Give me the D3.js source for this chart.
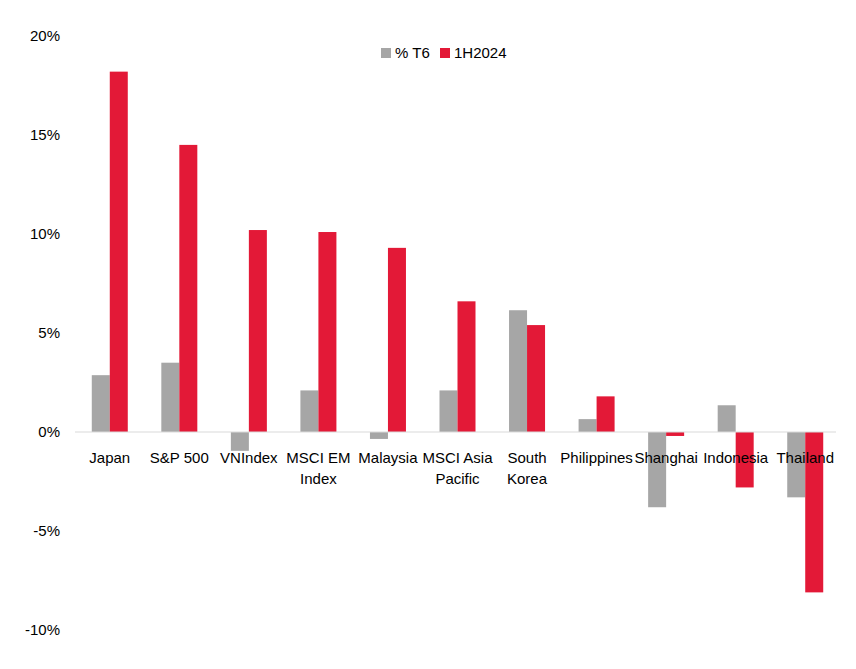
<!DOCTYPE html>
<html><head><meta charset="utf-8">
<script src="https://cdn.jsdelivr.net/npm/d3@7"></script>
<style>body{margin:0;background:#fff}text{font-family:"Liberation Sans Narrow","Liberation Sans",Arial,sans-serif;font-size:15px;fill:#000}</style>
</head><body><svg id="c" width="856" height="669"></svg>
<script>
const categories=[["Japan"],["S&P 500"],["VNIndex"],["MSCI EM","Index"],["Malaysia"],["MSCI Asia","Pacific"],["South","Korea"],["Philippines"],["Shanghai"],["Indonesia"],["Thailand"]];
const seriesNames=["% T6","1H2024"];
const t6=[2.87,3.5,-0.95,2.1,-0.35,2.1,6.15,0.65,-3.8,1.35,-3.3];
const h1=[18.2,14.5,10.2,10.1,9.3,6.6,5.4,1.8,-0.2,-2.8,-8.1];
const yTicks=[-10,-5,0,5,10,15,20];
const colors=["#a6a6a6","#e31937"];
const svg=d3.select("#c");
const x=d3.scaleBand().domain(d3.range(categories.length)).range([75,840]).paddingInner(0).paddingOuter(0);
const y=d3.scaleLinear().domain([-10,20]).range([630,36]);
yTicks.forEach(t=>svg.append("text").attr("x",60).attr("y",y(t)+5).attr("text-anchor","end").text(t+"%"));
const bw=18;
[t6,h1].forEach((s,si)=>{
 svg.selectAll(null).data(s).enter().append("rect")
  .attr("x",(d,i)=>x(i)+x.bandwidth()/2-bw+si*bw)
  .attr("y",d=>y(Math.max(0,d))).attr("width",bw)
  .attr("height",d=>Math.abs(y(d)-y(0))).attr("fill",colors[si]);
});
svg.append("line").attr("x1",75).attr("x2",836).attr("y1",y(0)).attr("y2",y(0)).attr("stroke","#d9d9d9").attr("stroke-width",1.2);
categories.forEach((c,i)=>c.forEach((l,j)=>svg.append("text").attr("x",x(i)+x.bandwidth()/2).attr("y",463+j*21).attr("text-anchor","middle").text(l)));
const lg=[[381,"% T6"],[440,"1H2024"]];
lg.forEach((l,i)=>{svg.append("rect").attr("x",l[0]).attr("y",48).attr("width",10).attr("height",10).attr("fill",colors[i]);
 svg.append("text").attr("x",l[0]+14).attr("y",58).text(l[1]);});
</script></body></html>
